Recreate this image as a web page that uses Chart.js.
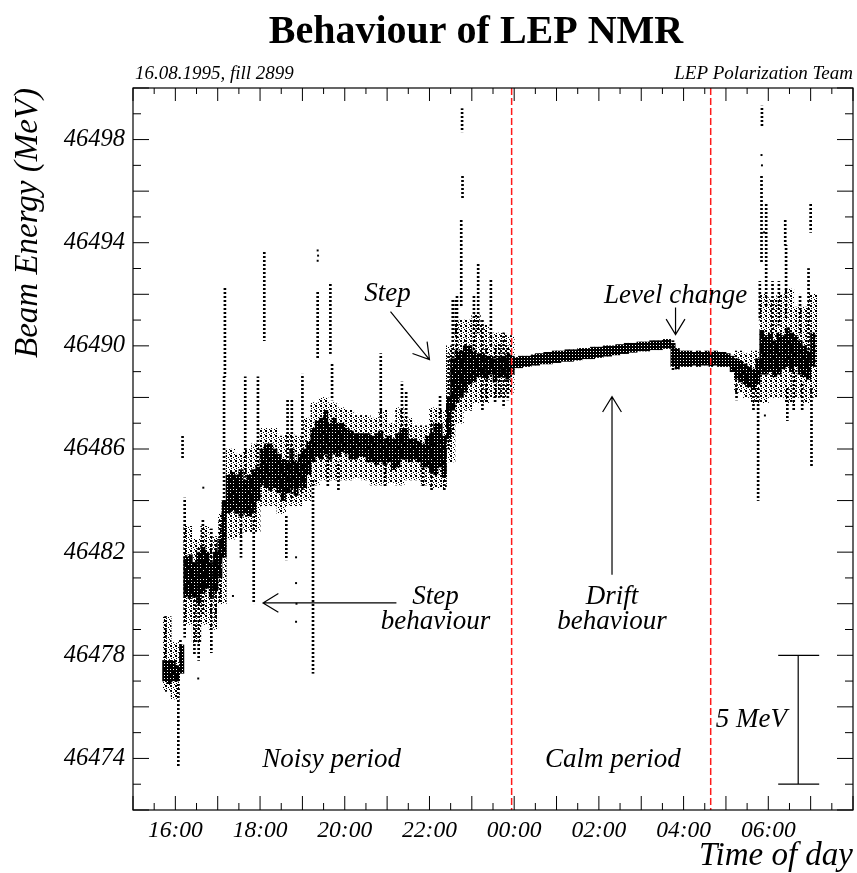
<!DOCTYPE html>
<html>
<head>
<meta charset="utf-8">
<script src="https://cdn.jsdelivr.net/npm/chart.js@4.4.1/dist/chart.umd.min.js"></script>
<style>
  html, body { margin: 0; padding: 0; background: #fff; }
  canvas { display: block; }
</style>
</head>
<body>
<canvas id="nmr" width="857" height="873"></canvas>
<script>
// Data. Time in hours since 00:00 on 16.08 (24 = midnight).
// Dense band of NMR readings, one bin every 0.1 h
const coreTime = [
  15.75, 15.85, 15.95, 16.05, 16.15, 16.25, 16.35, 16.45, 16.55, 16.65,
  16.75, 16.85, 16.95, 17.05, 17.15, 17.25, 17.35, 17.45, 17.55, 17.65,
  17.75, 17.85, 17.95, 18.05, 18.15, 18.25, 18.35, 18.45, 18.55, 18.65,
  18.75, 18.85, 18.95, 19.05, 19.15, 19.25, 19.35, 19.45, 19.55, 19.65,
  19.75, 19.85, 19.95, 20.05, 20.15, 20.25, 20.35, 20.45, 20.55, 20.65,
  20.75, 20.85, 20.95, 21.05, 21.15, 21.25, 21.35, 21.45, 21.55, 21.65,
  21.75, 21.85, 21.95, 22.05, 22.15, 22.25, 22.35, 22.45, 22.55, 22.65,
  22.75, 22.85, 22.95, 23.05, 23.15, 23.25, 23.35, 23.45, 23.55, 23.65,
  23.75, 23.85, 23.95, 24.05, 24.15, 24.25, 24.35, 24.45, 24.55, 24.65,
  24.75, 24.85, 24.95, 25.05, 25.15, 25.25, 25.35, 25.45, 25.55, 25.65,
  25.75, 25.85, 25.95, 26.05, 26.15, 26.25, 26.35, 26.45, 26.55, 26.65,
  26.75, 26.85, 26.95, 27.05, 27.15, 27.25, 27.35, 27.45, 27.55, 27.65,
  27.75, 27.85, 27.95, 28.05, 28.15, 28.25, 28.35, 28.45, 28.55, 28.65,
  28.75, 28.85, 28.95, 29.05, 29.15, 29.25, 29.35, 29.45, 29.55, 29.65,
  29.75, 29.85, 29.95, 30.05, 30.15, 30.25, 30.35, 30.45, 30.55, 30.65,
  30.75, 30.85, 30.95, 31.05
];
const coreLow = [
  46477.0, 46476.9, 46477.0, 46477.0, 46477.3, 46480.3, 46480.2, 46480.3, 46480.0, 46480.4,
  46480.6, 46480.2, 46480.5, 46481.0, 46481.8, 46483.5, 46483.6, 46483.5, 46483.4, 46483.5,
  46483.4, 46483.5, 46484.0, 46484.6, 46484.5, 46484.4, 46484.5, 46484.3, 46484.0, 46484.3,
  46484.5, 46484.2, 46484.5, 46484.5, 46485.0, 46485.5, 46485.7, 46485.6, 46485.8, 46485.6,
  46485.8, 46485.7, 46485.9, 46485.8, 46485.6, 46485.6, 46485.7, 46485.7, 46485.5, 46485.5,
  46485.4, 46485.5, 46485.4, 46485.5, 46485.2, 46485.3, 46485.6, 46485.6, 46485.5, 46485.6,
  46485.5, 46485.3, 46485.3, 46485.1, 46485.0, 46485.3, 46484.9, 46486.4, 46487.5, 46487.8,
  46488.0, 46488.2, 46488.5, 46488.6, 46488.8, 46488.8, 46488.7, 46488.9, 46488.6, 46488.8,
  46488.8, 46488.7, 46488.9, 46489.15, 46489.15, 46489.2, 46489.2, 46489.25, 46489.25, 46489.3,
  46489.3, 46489.3, 46489.35, 46489.35, 46489.4, 46489.4, 46489.4, 46489.45, 46489.45, 46489.5,
  46489.5, 46489.5, 46489.55, 46489.55, 46489.6, 46489.6, 46489.65, 46489.65, 46489.7, 46489.7,
  46489.75, 46489.75, 46489.8, 46489.8, 46489.8, 46489.85, 46489.85, 46489.85, 46489.9, 46489.9,
  46489.2, 46489.1, 46489.2, 46489.2, 46489.2, 46489.25, 46489.2, 46489.25, 46489.25, 46489.2,
  46489.25, 46489.2, 46489.2, 46489.2, 46489.0, 46488.7, 46488.6, 46488.5, 46488.4, 46488.3,
  46488.5, 46488.9, 46488.9, 46489.0, 46488.8, 46488.9, 46489.1, 46489.2, 46489.0, 46489.2,
  46488.9, 46488.8, 46488.7, 46489.2
];
const coreHigh = [
  46477.8, 46477.8, 46477.8, 46477.6, 46478.4, 46481.8, 46481.9, 46481.6, 46482.0, 46482.2,
  46482.0, 46481.6, 46482.0, 46482.5, 46484.0, 46485.0, 46485.1, 46485.0, 46485.2, 46484.8,
  46485.0, 46485.2, 46485.3, 46486.0, 46486.2, 46486.2, 46486.0, 46485.8, 46485.6, 46485.5,
  46486.0, 46485.5, 46485.8, 46486.0, 46486.3, 46486.8, 46487.1, 46487.2, 46487.5, 46487.0,
  46487.2, 46487.0, 46487.0, 46486.8, 46486.7, 46486.6, 46486.6, 46486.6, 46486.6, 46486.5,
  46486.6, 46486.7, 46486.4, 46486.5, 46486.4, 46486.6, 46486.8, 46486.8, 46486.4, 46486.4,
  46486.3, 46486.2, 46486.5, 46486.6, 46487.0, 46487.0, 46486.5, 46488.0, 46489.5, 46489.8,
  46489.8, 46490.0, 46490.0, 46489.8, 46489.7, 46489.7, 46489.6, 46489.6, 46489.5, 46489.6,
  46489.6, 46489.7, 46489.6, 46489.55, 46489.6, 46489.6, 46489.6, 46489.65, 46489.7, 46489.7,
  46489.75, 46489.75, 46489.8, 46489.8, 46489.8, 46489.85, 46489.85, 46489.85, 46489.9, 46489.9,
  46489.9, 46489.95, 46489.95, 46489.95, 46490.0, 46490.0, 46490.0, 46490.05, 46490.05, 46490.1,
  46490.1, 46490.1, 46490.15, 46490.15, 46490.15, 46490.2, 46490.2, 46490.2, 46490.25, 46490.25,
  46490.1, 46489.9, 46489.8, 46489.8, 46489.8, 46489.75, 46489.8, 46489.75, 46489.8, 46489.75,
  46489.8, 46489.75, 46489.75, 46489.7, 46489.6, 46489.5, 46489.4, 46489.3, 46489.2, 46489.1,
  46489.5, 46490.6, 46490.4, 46490.5, 46490.2, 46490.5, 46490.4, 46490.7, 46490.5, 46490.4,
  46490.2, 46490.0, 46489.8, 46490.5
];

// Looser scatter around the band in the noisy stretches, one bin every 0.2 h
const spreadTime = [
  15.8, 16.0, 16.3, 16.5, 16.7, 16.9, 17.1, 17.3, 17.5, 17.7,
  17.9, 18.1, 18.3, 18.5, 18.7, 18.9, 19.1, 19.3, 19.5, 19.7,
  19.9, 20.1, 20.3, 20.5, 20.7, 20.9, 21.1, 21.3, 21.5, 21.7,
  21.9, 22.1, 22.3, 22.5, 22.7, 22.9, 23.1, 23.3, 23.5, 23.7,
  23.9, 29.3, 29.5, 29.7, 29.9, 30.1, 30.3, 30.5, 30.7, 30.9,
  31.05
];
const spreadLow = [
  46476.6, 46476.3, 46479.2, 46478.5, 46479.2, 46479.0, 46480.0, 46482.5, 46482.6, 46482.8,
  46482.8, 46483.8, 46483.8, 46483.5, 46483.8, 46483.8, 46484.0, 46484.6, 46484.8, 46484.8,
  46484.8, 46484.8, 46484.9, 46484.8, 46484.6, 46484.6, 46484.7, 46484.6, 46484.8, 46484.8,
  46484.6, 46484.5, 46484.5, 46485.5, 46487.0, 46487.5, 46487.8, 46487.8, 46488.0, 46488.0,
  46488.2, 46488.2, 46488.0, 46487.8, 46487.8, 46488.0, 46488.0, 46487.8, 46488.0, 46487.8,
  46488.0
];
const spreadHigh = [
  46479.5, 46478.5, 46483.0, 46482.5, 46483.0, 46482.6, 46483.5, 46486.0, 46485.8, 46486.0,
  46486.2, 46486.8, 46486.8, 46486.5, 46486.6, 46486.5, 46487.2, 46487.8, 46488.0, 46487.8,
  46487.6, 46487.5, 46487.3, 46487.3, 46487.2, 46487.5, 46487.0, 46487.6, 46487.2, 46486.9,
  46486.9, 46487.6, 46487.5, 46490.0, 46491.0, 46491.0, 46491.2, 46490.8, 46490.5, 46490.5,
  46490.4, 46489.8, 46489.7, 46489.8, 46492.0, 46491.8, 46492.0, 46492.2, 46491.5, 46491.5,
  46492.0
];

// Sparse vertical streaks of readings (spikes and excursions)
const streakTime = [
  15.76, 16.07, 16.12, 16.17, 16.22, 16.45, 16.55, 16.65, 16.85, 16.95,
  17.05, 17.15, 17.17, 17.55, 17.65, 17.85, 17.95, 18.1, 18.62, 18.65,
  18.75, 19.0, 19.25, 19.36, 19.6, 19.66, 19.7, 19.85, 20.85, 20.95,
  21.35, 21.45, 21.85, 22.05, 22.25, 22.35, 22.45, 22.55, 22.62, 22.65,
  22.75, 22.77, 22.78, 22.85, 23.05, 23.15, 23.25, 23.35, 23.45, 23.55,
  23.65, 23.75, 23.85, 27.75, 29.25, 29.65, 29.76, 29.8, 29.84, 29.85,
  29.95, 30.1, 30.25, 30.4, 30.42, 30.45, 30.6, 30.75, 30.8, 30.95,
  31.0, 31.02
];
const streakLow = [
  46477.8, 46473.7, 46477.6, 46485.6, 46478.7, 46478.0, 46477.8, 46479.6, 46478.1, 46479.3,
  46480.0, 46483.6, 46488.8, 46481.8, 46484.9, 46480.0, 46484.9, 46490.2, 46481.7, 46484.3,
  46484.0, 46484.3, 46477.3, 46489.5, 46484.5, 46489.7, 46487.9, 46484.4, 46486.9, 46484.5,
  46486.8, 46486.8, 46484.5, 46484.4, 46487.2, 46484.4, 46486.0, 46486.5, 46490.4, 46489.8,
  46491.5, 46498.3, 46495.7, 46488.4, 46489.5, 46490.5, 46487.5, 46487.8, 46490.0, 46487.8,
  46488.0, 46487.6, 46487.9, 46489.0, 46487.9, 46487.5, 46484.0, 46491.0, 46493.2, 46498.5,
  46491.5, 46490.5, 46490.8, 46493.9, 46491.0, 46487.1, 46487.5, 46490.5, 46487.5, 46489.2,
  46494.4, 46485.3
];
const streakHigh = [
  46479.5, 46476.9, 46478.6, 46486.5, 46484.1, 46480.3, 46482.2, 46483.3, 46482.9, 46482.5,
  46483.3, 46488.8, 46492.3, 46483.5, 46488.8, 46483.4, 46488.8, 46493.7, 46483.4, 46487.9,
  46487.9, 46488.9, 46484.8, 46492.1, 46485.8, 46492.4, 46489.3, 46485.5, 46489.7, 46485.4,
  46488.6, 46488.2, 46485.3, 46487.1, 46488.1, 46485.0, 46489.7, 46491.8, 46491.8, 46492.0,
  46494.9, 46499.2, 46496.6, 46490.3, 46492.0, 46493.2, 46491.0, 46490.0, 46492.6, 46490.0,
  46490.1, 46490.5, 46490.0, 46490.2, 46488.5, 46488.4, 46488.4, 46492.5, 46496.6, 46499.3,
  46495.5, 46492.5, 46492.5, 46494.9, 46493.9, 46488.4, 46489.0, 46492.0, 46488.6, 46493.0,
  46495.5, 46488.4
];

// Isolated readings
const strayTime = [16.54, 16.66, 17.36, 18.85, 18.85, 18.86, 18.85, 19.36, 19.37, 19.36, 29.84, 29.85, 29.9, 29.92];
const strayEnergy = [46477.1, 46484.5, 46480.3, 46481.8, 46480.8, 46480.0, 46479.3, 46493.7, 46493.5, 46493.3, 46497.4, 46497.0, 46494.4, 46487.3];

// Axes
const timeTicks = [16, 18, 20, 22, 24, 26, 28, 30];
const energyTicks = [46474, 46478, 46482, 46486, 46490, 46494, 46498];
const markerTimes = [23.94, 28.64];

// Notes placed in data units (time, energy)
const notes = [
  { text: 'Step', t: 21.01, e: 46492.0 },
  { text: 'Level change', t: 27.81, e: 46491.95 },
  { text: 'Step', t: 22.14, e: 46480.27 },
  { text: 'behaviour', t: 22.14, e: 46479.3 },
  { text: 'Drift', t: 26.31, e: 46480.27 },
  { text: 'behaviour', t: 26.31, e: 46479.3 },
  { text: 'Noisy period', t: 19.69, e: 46473.94 },
  { text: 'Calm period', t: 26.33, e: 46473.94 },
  { text: '5 MeV', t: 29.6, e: 46475.49 }
];
const arrows = [
  [21.08, 46491.33, 22.0, 46489.47],
  [27.81, 46491.49, 27.81, 46490.44],
  [21.22, 46480.03, 18.07, 46480.03],
  [26.31, 46481.12, 26.31, 46488.03]
];
const scaleBar = { t: 30.706, from: 46478, to: 46473 };

function makePattern(w, h, rects) {
  const c = document.createElement('canvas');
  c.width = w; c.height = h;
  const g = c.getContext('2d');
  g.fillStyle = '#000';
  rects.forEach(r => g.fillRect(r[0], r[1], r[2], r[3]));
  return g.createPattern(c, 'repeat');
}

// dense band: mostly black with small white specks
const corePattern = makePattern(3, 3, [[0, 0, 2, 3], [2, 1, 1, 2]]);
const spreadPattern = makePattern(5, 5, [[0, 0, 2, 2], [3, 2, 1, 1], [1, 3, 1, 1], [4, 4, 1, 1]]);
const streakPattern = makePattern(2, 4, [[0, 0, 2, 2]]);

const serif = '"Liberation Serif", "Times New Roman", serif';

// Frame, inward ticks, red markers and notes
const decorPlugin = {
  id: 'decor',
  afterDatasetsDraw(chart) {
    const c = chart.ctx;
    const xs = chart.scales.x, ys = chart.scales.y;
    const a = chart.chartArea;
    const px = v => xs.getPixelForValue(v);
    const py = v => ys.getPixelForValue(v);
    c.save();

    // red dashed markers
    c.strokeStyle = '#ff1a1a';
    c.lineWidth = 1.5;
    c.setLineDash([7, 3]);
    markerTimes.forEach(t => {
      c.beginPath(); c.moveTo(px(t), a.top); c.lineTo(px(t), a.bottom); c.stroke();
    });
    c.setLineDash([]);

    // frame
    c.strokeStyle = '#000';
    c.lineWidth = 1.2;
    c.strokeRect(a.left, a.top, a.right - a.left, a.bottom - a.top);

    // ticks
    c.lineWidth = 1;
    c.beginPath();
    for (let t = 15; t <= 32; t += 0.5) {
      const x = px(t);
      const major = Number.isInteger(t);
      c.moveTo(x, a.bottom); c.lineTo(x, a.bottom - (major ? 14 : 7));
      c.moveTo(x, a.top); c.lineTo(x, a.top + (major ? 13 : 6));
    }
    for (let e = 46472; e <= 46500; e += 1) {
      const y = py(e);
      const major = e % 2 === 0;
      c.moveTo(a.left, y); c.lineTo(a.left + (major ? 16 : 8), y);
      c.moveTo(a.right, y); c.lineTo(a.right - (major ? 16 : 8), y);
    }
    c.stroke();

    // arrows
    c.lineWidth = 1.2;
    arrows.forEach(([t1, e1, t2, e2]) => {
      const x1 = px(t1), y1 = py(e1), x2 = px(t2), y2 = py(e2);
      const ang = Math.atan2(y2 - y1, x2 - x1);
      const len = 18, spread = 0.55;
      c.beginPath();
      c.moveTo(x1, y1); c.lineTo(x2, y2);
      c.moveTo(x2 - len * Math.cos(ang - spread), y2 - len * Math.sin(ang - spread));
      c.lineTo(x2, y2);
      c.lineTo(x2 - len * Math.cos(ang + spread), y2 - len * Math.sin(ang + spread));
      c.stroke();
    });

    // 5 MeV scale bar
    const bx = px(scaleBar.t), by1 = py(scaleBar.from), by2 = py(scaleBar.to);
    c.beginPath();
    c.moveTo(bx, by1); c.lineTo(bx, by2);
    c.moveTo(bx - 20, by1); c.lineTo(bx + 21, by1);
    c.moveTo(bx - 20, by2); c.lineTo(bx + 21, by2);
    c.stroke();

    // notes
    c.fillStyle = '#000';
    c.font = 'italic 27px ' + serif;
    c.textAlign = 'center';
    c.textBaseline = 'middle';
    notes.forEach(n => c.fillText(n.text, px(n.t), py(n.e)));

    // titles
    c.textBaseline = 'alphabetic';
    c.font = 'bold 40px ' + serif;
    c.fillText('Behaviour of LEP NMR', 476, 43);
    c.font = 'italic 19px ' + serif;
    c.textAlign = 'left';
    c.fillText('16.08.1995, fill 2899', a.left + 2, 79);
    c.textAlign = 'right';
    c.fillText('LEP Polarization Team', 853, 79);
    c.font = 'italic 33px ' + serif;
    c.fillText('Time of day', 853, 865);
    c.translate(37, a.top);
    c.rotate(-Math.PI / 2);
    c.fillText('Beam Energy (MeV)', 0, 0);
    c.restore();
  }
};

new Chart(document.getElementById('nmr').getContext('2d'), {
  type: 'bar',
  data: {
    datasets: [
      {
        label: 'core',
        data: coreTime.map((t, i) => ({ x: t, y: [coreLow[i], coreHigh[i]] })),
        backgroundColor: corePattern,
        borderWidth: 0,
        barThickness: 4.4,
        grouped: false
      },
      {
        label: 'streaks',
        data: streakTime.map((t, i) => ({ x: t, y: [streakLow[i], streakHigh[i]] })),
        backgroundColor: streakPattern,
        borderWidth: 0,
        barThickness: 2,
        grouped: false
      },
      {
        label: 'spread',
        data: spreadTime.map((t, i) => ({ x: t, y: [spreadLow[i], spreadHigh[i]] })),
        backgroundColor: spreadPattern,
        borderWidth: 0,
        barThickness: 8.6,
        grouped: false
      },
      {
        type: 'scatter',
        label: 'stray',
        data: strayTime.map((t, i) => ({ x: t, y: strayEnergy[i] })),
        backgroundColor: '#000',
        borderWidth: 0,
        pointStyle: 'rect',
        pointRadius: 1.4
      }
    ]
  },
  options: {
    responsive: false,
    animation: false,
    events: [],
    layout: { padding: { top: 88, right: 1.5, left: 0, bottom: 0 } },
    plugins: { legend: { display: false }, tooltip: { enabled: false }, title: { display: false } },
    scales: {
      x: {
        type: 'linear',
        min: 15, max: 32,
        offset: false,
        grid: { display: false, drawTicks: false, offset: false },
        border: { display: false },
        afterBuildTicks: s => { s.ticks = timeTicks.map(v => ({ value: v })); },
        afterFit: s => { s.height = 63; },
        ticks: {
          autoSkip: false, maxRotation: 0, minRotation: 0, padding: 7,
          color: '#000', font: { family: serif, style: 'italic', size: 23.5 },
          callback: v => { const h = v % 24; return (h < 10 ? '0' : '') + h + ':00'; }
        }
      },
      y: {
        min: 46472, max: 46500,
        beginAtZero: false,
        grid: { display: false, drawTicks: false },
        border: { display: false },
        afterBuildTicks: s => { s.ticks = energyTicks.map(v => ({ value: v })); },
        afterFit: s => { s.width = 133; },
        ticks: { padding: 8, color: '#000', font: { family: serif, style: 'italic', size: 24.5 }, callback: v => String(v) }
      }
    }
  },
  plugins: [decorPlugin]
});
</script>
</body>
</html>
